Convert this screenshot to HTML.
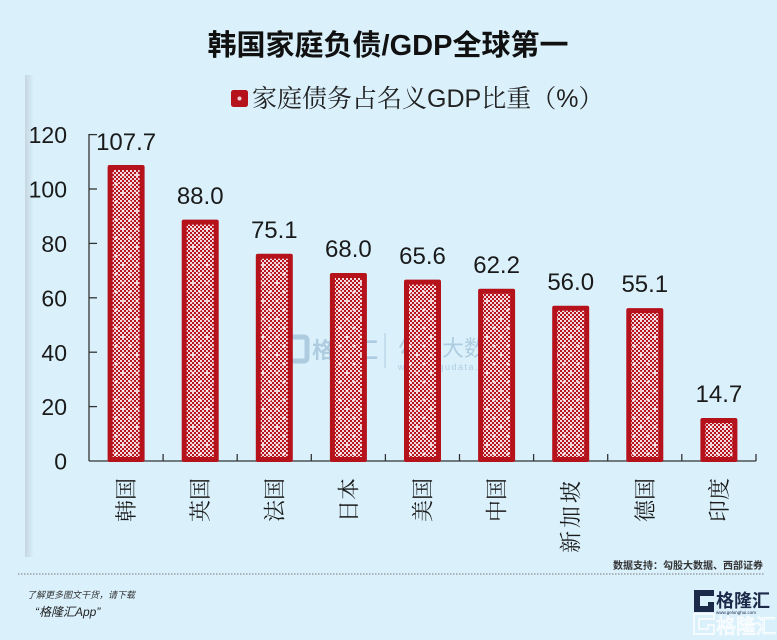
<!DOCTYPE html>
<html><head><meta charset="utf-8">
<style>
html,body{margin:0;padding:0;background:#daf1fc;}
svg{display:block;}
</style></head>
<body>
<svg width="777" height="640" viewBox="0 0 777 640" xmlns="http://www.w3.org/2000/svg">
<defs>
  <pattern id="chk" x="0" y="0" width="4" height="4" patternUnits="userSpaceOnUse">
    <rect width="4" height="4" fill="#b8141f"/>
    <rect x="0" y="0" width="2" height="2" fill="#f1d9de"/>
    <rect x="2" y="2" width="2" height="2" fill="#f1d9de"/>
  </pattern>
  <pattern id="dots" x="0" y="0" width="14" height="18" patternUnits="userSpaceOnUse">
    <rect x="2.5" y="3.5" width="3" height="1" fill="#fff"/>
    <rect x="3.5" y="2.5" width="1" height="3" fill="#fff"/>
    <rect x="9.5" y="12.5" width="3" height="1" fill="#fff"/>
    <rect x="10.5" y="11.5" width="1" height="3" fill="#fff"/>
  </pattern>
  <linearGradient id="strip" x1="0" x2="1" y1="0" y2="0">
    <stop offset="0" stop-color="#c6d6e0"/>
    <stop offset="1" stop-color="#daf1fc"/>
  </linearGradient>
</defs>

<rect width="777" height="640" fill="#daf1fc"/>
<rect x="25" y="75" width="9" height="482" fill="url(#strip)"/>

<!-- Title -->
<text x="388" y="55" text-anchor="middle" font-family="'Liberation Sans','Noto Sans CJK SC',sans-serif" font-weight="bold" font-size="29" fill="#111">韩国家庭负债/GDP全球第一</text>

<!-- Legend -->
<rect x="231" y="90" width="17" height="17" rx="2.5" fill="#b5121b"/>
<circle cx="239.5" cy="98.5" r="2" fill="#f4d0d4"/>
<text x="252" y="107" font-size="25" fill="#222" font-family="'Noto Serif CJK SC',serif">家庭债务占名义<tspan font-family="'Liberation Sans',sans-serif">GDP</tspan>比重（<tspan font-family="'Liberation Sans',sans-serif">%</tspan>）</text>

<!-- Watermark -->
<g opacity="0.28" fill="#3f6f9a" font-family="'Liberation Sans','Noto Sans CJK SC',sans-serif">
  <rect x="285" y="337" width="22" height="24" rx="3" fill="none" stroke="#3f6f9a" stroke-width="5"/>
  <text x="312" y="358" font-size="22" font-weight="bold">格隆汇</text>
  <line x1="385" y1="333" x2="385" y2="368" stroke="#3f6f9a" stroke-width="1"/>
  <text x="398" y="356" font-size="22">勾股大数据</text>
  <text x="398" y="370" font-size="9" letter-spacing="1.5">www.gogudata.com</text>
</g>

<!-- Y axis -->
<g stroke="#333" stroke-width="1.3" fill="none">
  <line x1="89" y1="134" x2="89" y2="461"/>
  <line x1="89" y1="134.6" x2="97" y2="134.6"/>
  <line x1="89" y1="189" x2="97" y2="189"/>
  <line x1="89" y1="243.4" x2="97" y2="243.4"/>
  <line x1="89" y1="297.8" x2="97" y2="297.8"/>
  <line x1="89" y1="352.2" x2="97" y2="352.2"/>
  <line x1="89" y1="406.6" x2="97" y2="406.6"/>
  <line x1="89" y1="461" x2="756" y2="461"/>
  <line x1="163.1" y1="454" x2="163.1" y2="461"/>
  <line x1="237.2" y1="454" x2="237.2" y2="461"/>
  <line x1="311.3" y1="454" x2="311.3" y2="461"/>
  <line x1="385.4" y1="454" x2="385.4" y2="461"/>
  <line x1="459.5" y1="454" x2="459.5" y2="461"/>
  <line x1="533.6" y1="454" x2="533.6" y2="461"/>
  <line x1="607.7" y1="454" x2="607.7" y2="461"/>
  <line x1="681.8" y1="454" x2="681.8" y2="461"/>
  <line x1="756" y1="454" x2="756" y2="461"/>
</g>
<g font-family="'Liberation Sans',sans-serif" font-size="23" fill="#1a1a1a" text-anchor="end">
  <text x="67" y="143">120</text>
  <text x="67" y="197.5">100</text>
  <text x="67" y="252">80</text>
  <text x="67" y="306.5">60</text>
  <text x="67" y="361">40</text>
  <text x="67" y="415">20</text>
  <text x="67" y="469.5">0</text>
</g>

<!-- Bars -->
<g>
  <rect x="107.6" y="165" width="37" height="297" rx="2" fill="#b5121b"/>
  <rect x="112.6" y="170" width="27" height="287" fill="url(#chk)"/><rect x="112.6" y="170" width="27" height="287" fill="url(#dots)"/>
  <rect x="181.7" y="219.6" width="37" height="242.4" rx="2" fill="#b5121b"/>
  <rect x="186.7" y="224.6" width="27" height="232.4" fill="url(#chk)"/><rect x="186.7" y="224.6" width="27" height="232.4" fill="url(#dots)"/>
  <rect x="255.8" y="253.7" width="37" height="208.3" rx="2" fill="#b5121b"/>
  <rect x="260.8" y="258.7" width="27" height="198.3" fill="url(#chk)"/><rect x="260.8" y="258.7" width="27" height="198.3" fill="url(#dots)"/>
  <rect x="329.9" y="273" width="37" height="189" rx="2" fill="#b5121b"/>
  <rect x="334.9" y="278" width="27" height="179" fill="url(#chk)"/><rect x="334.9" y="278" width="27" height="179" fill="url(#dots)"/>
  <rect x="404" y="279.6" width="37" height="182.4" rx="2" fill="#b5121b"/>
  <rect x="409" y="284.6" width="27" height="172.4" fill="url(#chk)"/><rect x="409" y="284.6" width="27" height="172.4" fill="url(#dots)"/>
  <rect x="478.1" y="288.8" width="37" height="173.2" rx="2" fill="#b5121b"/>
  <rect x="483.1" y="293.8" width="27" height="163.2" fill="url(#chk)"/><rect x="483.1" y="293.8" width="27" height="163.2" fill="url(#dots)"/>
  <rect x="552.2" y="305.7" width="37" height="156.3" rx="2" fill="#b5121b"/>
  <rect x="557.2" y="310.7" width="27" height="146.3" fill="url(#chk)"/><rect x="557.2" y="310.7" width="27" height="146.3" fill="url(#dots)"/>
  <rect x="626.3" y="308.1" width="37" height="153.9" rx="2" fill="#b5121b"/>
  <rect x="631.3" y="313.1" width="27" height="143.9" fill="url(#chk)"/><rect x="631.3" y="313.1" width="27" height="143.9" fill="url(#dots)"/>
  <rect x="700.4" y="418" width="37" height="44" rx="2" fill="#b5121b"/>
  <rect x="705.4" y="423" width="27" height="34" fill="url(#chk)"/><rect x="705.4" y="423" width="27" height="34" fill="url(#dots)"/>
</g>

<!-- Value labels -->
<g font-family="'Liberation Sans',sans-serif" font-size="24" fill="#1a1a1a" text-anchor="middle">
  <text x="126.1" y="150">107.7</text>
  <text x="200.2" y="204">88.0</text>
  <text x="274.3" y="238">75.1</text>
  <text x="348.4" y="257">68.0</text>
  <text x="422.5" y="264">65.6</text>
  <text x="496.6" y="273">62.2</text>
  <text x="570.7" y="290">56.0</text>
  <text x="644.8" y="292">55.1</text>
  <text x="718.9" y="402">14.7</text>
</g>

<!-- X labels (rotated) -->
<g font-family="'Noto Serif CJK SC',serif" font-size="22" fill="#1a1a1a" text-anchor="end">
  <text transform="translate(126.1,478) rotate(-90)" y="8">韩国</text>
  <text transform="translate(200.2,478) rotate(-90)" y="8">英国</text>
  <text transform="translate(274.3,478) rotate(-90)" y="8">法国</text>
  <text transform="translate(348.4,478) rotate(-90)" y="8">日本</text>
  <text transform="translate(422.5,478) rotate(-90)" y="8">美国</text>
  <text transform="translate(496.6,478) rotate(-90)" y="8">中国</text>
  <text transform="translate(570.7,478) rotate(-90)" y="8" letter-spacing="3">新加坡</text>
  <text transform="translate(644.8,478) rotate(-90)" y="8">德国</text>
  <text transform="translate(718.9,478) rotate(-90)" y="8">印度</text>
</g>

<!-- Source -->
<text x="763" y="569" text-anchor="end" font-family="'Liberation Sans','Noto Sans CJK SC',sans-serif" font-size="10" font-weight="bold" fill="#333">数据支持：勾股大数据、西部证券</text>
<line x1="18" y1="574" x2="765" y2="574" stroke="#777" stroke-width="1" stroke-dasharray="1.5,1.5"/>

<!-- Footer left -->
<text x="27" y="598" font-family="'Liberation Sans','Noto Sans CJK SC',sans-serif" font-size="9" font-style="italic" fill="#333">了解更多图文干货，请下载</text>
<text x="35" y="616" font-family="'Liberation Sans','Noto Sans CJK SC',sans-serif" font-size="12" font-style="italic" fill="#222">“格隆汇App”</text>

<!-- Logo -->
<g>
  <path d="M694 590 h20 v6 h-14 v10 h8 v-4 h6 v10 h-20 z" fill="#1c2a4a"/>
  <text x="716" y="607" font-family="'Liberation Sans','Noto Sans CJK SC',sans-serif" font-size="18" font-weight="bold" fill="#1c2a4a">格隆汇</text>
  <text x="716" y="614" font-family="'Liberation Sans',sans-serif" font-size="4.5" fill="#1c2a4a">www.gelonghui.com</text>
  <path d="M694 614 h20 v5 h-15 v10 h9 v-4 h6 v9 h-20 z" fill="none" stroke="#ffffff" stroke-width="1.5" opacity="0.9"/>
  <text x="716" y="633" font-family="'Liberation Sans','Noto Sans CJK SC',sans-serif" font-size="20" fill="none" stroke="#ffffff" stroke-width="1" opacity="0.9">格隆汇</text>
</g>
</svg>
</body></html>
